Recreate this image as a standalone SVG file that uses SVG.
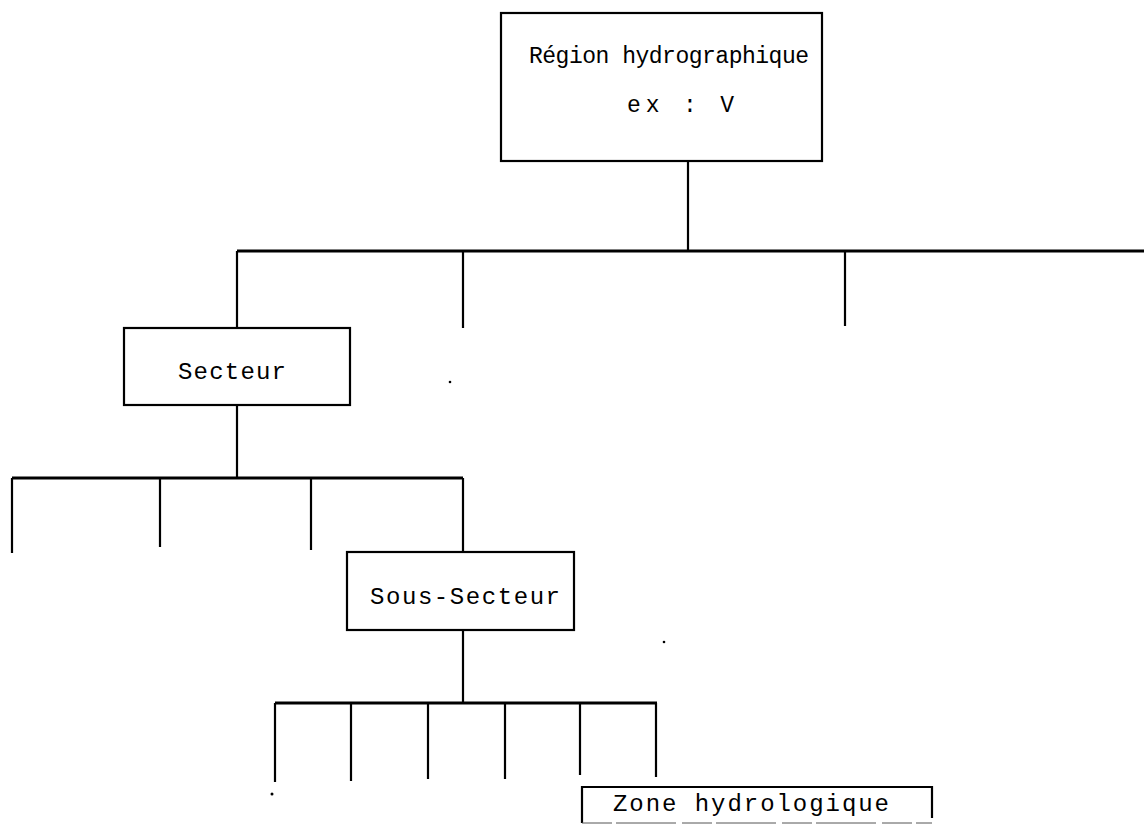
<svg xmlns="http://www.w3.org/2000/svg" width="1144" height="826" viewBox="0 0 1144 826">
<style>
.box{fill:#fff;stroke:#000;stroke-width:2.2}
.ln{stroke:#000;stroke-width:2.2;fill:none}
.lt{stroke:#000;stroke-width:2.8;fill:none}
.t{font-family:"Liberation Mono","Courier New",monospace;font-size:24px;fill:#000}
.s{font-size:23px}
</style>
<rect width="1144" height="826" fill="#fff"/>
<g id="connectors">
<path class="ln" d="M688,161 V250"/>
<path class="lt" d="M237,251 H1144"/>
<path class="ln" d="M237,251 V328 M463,251 V328 M845,251 V326"/>
<path class="ln" d="M237,405 V478"/>
<path class="lt" d="M12,478 H463"/>
<path class="ln" d="M12,478 V553 M160,478 V547 M311,478 V550 M463,478 V552"/>
<path class="ln" d="M463,630 V703"/>
<path class="lt" d="M275,703 H657"/>
<path class="ln" d="M275,703 V782 M351,703 V781 M428,703 V779 M505,703 V779 M580,703 V775 M656,703 V777"/>
</g>
<g id="n_region">
<rect class="box" x="501" y="13" width="321" height="148"/>
<text class="t s" x="529" y="63" textLength="280" lengthAdjust="spacing">Région hydrographique</text>
<text class="t s" x="627" y="112" textLength="107" lengthAdjust="spacing">ex :  V</text>
</g>
<g id="n_secteur">
<rect class="box" x="124" y="328" width="226" height="77"/>
<text class="t" x="178" y="379" textLength="108" lengthAdjust="spacing">Secteur</text>
</g>
<g id="n_soussecteur">
<rect class="box" x="347" y="552" width="227" height="78"/>
<text class="t" x="370" y="604" textLength="190" lengthAdjust="spacing">Sous-Secteur</text>
</g>
<g id="n_zone">
<path class="ln" d="M582,823 V787 H932 V818"/>
<path d="M582,823 H932" stroke="#555" stroke-width="1" stroke-dasharray="30,4,60,6"/>
<text class="t" x="613" y="811" textLength="276" lengthAdjust="spacing">Zone hydrologique</text>
</g>
<g id="specks" fill="#000">
<circle cx="450" cy="382" r="1.3"/>
<circle cx="664" cy="642" r="1.3"/>
<circle cx="272" cy="794" r="1.5"/>
</g>
</svg>
